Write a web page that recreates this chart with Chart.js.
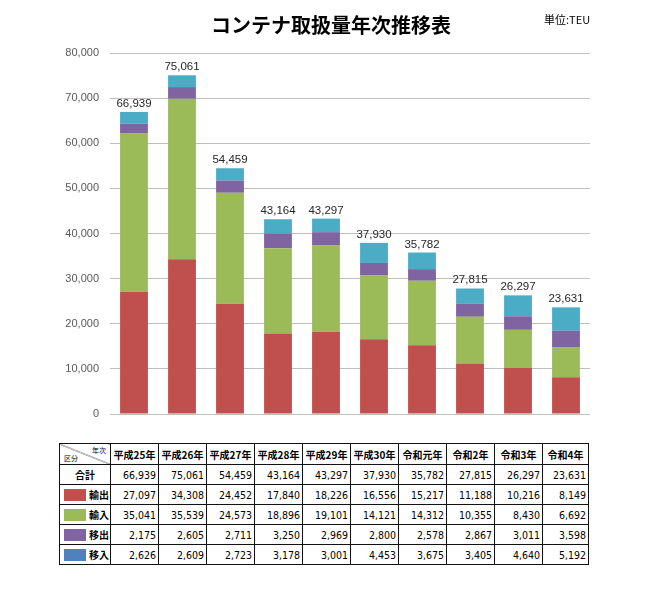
<!DOCTYPE html>
<html>
<head>
<meta charset="utf-8">
<script src="https://cdn.jsdelivr.net/npm/chart.js@4.4.0/dist/chart.umd.min.js"></script>
<style>
  html, body { margin:0; padding:0; background:#fff; }
  #wrap { position:relative; width:650px; height:592px; overflow:hidden; }
  #chartBox { position:absolute; left:0; top:0; width:650px; height:440px; }
  #title { position:absolute; left:0; width:662px; top:11px; text-align:center;
           font: bold 20px "Noto Sans CJK JP"; color:#000; line-height:28px; }
  #unit { position:absolute; left:544px; top:11px; font: 11px "Noto Sans CJK JP"; color:#000; line-height:16px; }
  #tbl { position:absolute; left:59px; top:443px; border-collapse:collapse; table-layout:fixed;
         font-family:"Noto Sans CJK JP"; }
  #tbl td { border:1px solid #111; padding:0 2px 0 0; height:19px; font: 10.5px "Liberation Sans Narrow","DejaVu Sans Condensed","Liberation Sans"; text-align:right; color:#000; overflow:hidden; white-space:nowrap; }
  #tbl tr.hd td { height:20px; font: bold 10px "Noto Sans CJK JP"; text-align:center; padding:0; }
  #tbl td.lab { text-align:left; padding:0; font: bold 10px "Noto Sans CJK JP"; position:relative; }
  #tbl td.tot { text-align:center; font: bold 10px "Noto Sans CJK JP"; padding:0; }
  .sw { position:absolute; left:4px; top:4px; width:22px; height:12px; }
  .lt { position:absolute; left:29px; top:2px; }
  td.diag { position:relative; padding:0 !important;
    background: linear-gradient(to top right, transparent calc(50% - 0.6px), #333 calc(50%), transparent calc(50% + 0.6px)); }
  td.diag .a { position:absolute; right:4px; top:1px; font: 7px "Noto Sans CJK JP"; }
  td.diag .b { position:absolute; left:4px; bottom:1px; font: 7px "Noto Sans CJK JP"; }
</style>
</head>
<body>
<div id="wrap">
  <div id="chartBox"><canvas id="c"></canvas></div>
  <div id="title">コンテナ取扱量年次推移表</div>
  <div id="unit">単位:TEU</div>
  <table id="tbl"></table>
</div>
<script>
const categories = ["平成25年","平成26年","平成27年","平成28年","平成29年","平成30年","令和元年","令和2年","令和3年","令和4年"];
const exportOut = [27097,34308,24452,17840,18226,16556,15217,11188,10216,8149];   // 輸出
const importIn  = [35041,35539,24573,18896,19101,14121,14312,10355,8430,6692];    // 輸入
const transferOut = [2175,2605,2711,3250,2969,2800,2578,2867,3011,3598];           // 移出
const transferIn  = [2626,2609,2723,3178,3001,4453,3675,3405,4640,5192];           // 移入
const totals = [66939,75061,54459,43164,43297,37930,35782,27815,26297,23631];      // 合計
const yTicks = [0,10000,20000,30000,40000,50000,60000,70000,80000];

const seriesNames = ["輸出","輸入","移出","移入"];
const barColors = ["#C0504D","#9BBB59","#8064A2","#4BACC6"];
const swatchColors = ["#C0504D","#9BBB59","#8064A2","#4F81BD"];
const seriesData = [exportOut, importIn, transferOut, transferIn];

const fmt = v => v.toLocaleString('en-US');

const totalLabels = {
  id:'totalLabels',
  afterDatasetsDraw(chart){
    const ctx = chart.ctx;
    const meta = chart.getDatasetMeta(chart.data.datasets.length-1);
    ctx.save();
    ctx.font = '11.5px "Liberation Sans"';
    ctx.fillStyle = '#262626';
    ctx.textAlign = 'center';
    ctx.textBaseline = 'alphabetic';
    meta.data.forEach((el,i)=>{
      ctx.fillText(fmt(totals[i]), el.x, el.y - 5);
    });
    ctx.restore();
  }
};

new Chart(document.getElementById('c'), {
  type:'bar',
  data:{
    labels: categories,
    datasets: seriesNames.map((n,i)=>({
      label:n, data:seriesData[i], backgroundColor:barColors[i],
      borderWidth:0, barPercentage:0.58, categoryPercentage:1
    }))
  },
  options:{
    responsive:true, maintainAspectRatio:false, animation:false,
    layout:{ padding:{ left:0, right:60, top:53, bottom:26 } },
    plugins:{ legend:{display:false}, tooltip:{enabled:false}, title:{display:false} },
    scales:{
      x:{ stacked:true, display:false },
      y:{ stacked:true, min:0, max:80000,
          afterFit(s){ s.width = 110; },
          afterBuildTicks(s){ s.ticks = yTicks.map(v=>({value:v})); },
          ticks:{ padding:11, color:'#595959', font:{ size:11, family:'"Liberation Sans"' },
                  callback:v=>fmt(v) },
          grid:{ color:'#BFBFBF', drawTicks:false, lineWidth:1 },
          border:{ display:false }
      }
    }
  },
  plugins:[totalLabels]
});

// table
const tbl = document.getElementById('tbl');
const colW = [51,48,48,48,48,48,48,48,48,48,46];
const cg = document.createElement('colgroup');
colW.forEach(w=>{ const c=document.createElement('col'); c.style.width=w+'px'; cg.appendChild(c); });
tbl.appendChild(cg);
let html = '<tr class="hd"><td class="diag"><span class="a">年次</span><span class="b">区分</span></td>' +
  categories.map(c=>'<td>'+c+'</td>').join('') + '</tr>';
html += '<tr><td class="tot">合計</td>' + totals.map(v=>'<td>'+fmt(v)+'</td>').join('') + '</tr>';
seriesNames.forEach((n,i)=>{
  html += '<tr><td class="lab"><span class="sw" style="background:'+swatchColors[i]+'"></span><span class="lt">'+n+'</span></td>' +
    seriesData[i].map(v=>'<td>'+fmt(v)+'</td>').join('') + '</tr>';
});
tbl.insertAdjacentHTML('beforeend', html);
</script>
</body>
</html>
